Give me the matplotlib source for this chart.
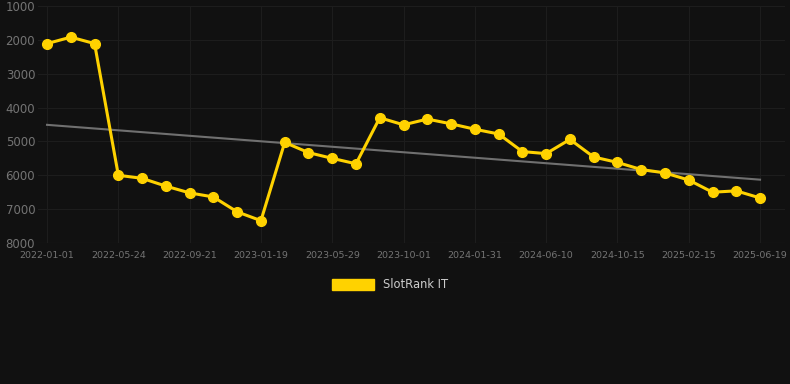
import numpy as np
import matplotlib
matplotlib.use("Agg")
import matplotlib.pyplot as plt

# rank values, one per point (lower rank number = better, axis inverted)
ranks = [2110, 1920, 2110, 6000, 6090, 6320, 6520, 6640, 7080, 7340,
         5030, 5330, 5500, 5660, 4300, 4510, 4340, 4480, 4640, 4780,
         5300, 5360, 4940, 5460, 5620, 5830, 5930, 6140, 6500, 6460, 6670]
tick_labels = ["2022-01-01", "2022-05-24", "2022-09-21", "2023-01-19", "2023-05-29",
               "2023-10-01", "2024-01-31", "2024-06-10", "2024-10-15", "2025-02-15",
               "2025-06-19"]
series_name = "SlotRank IT"

bg = "#111111"
x = np.arange(len(ranks))
fig = plt.figure(figsize=(7.9, 3.84), dpi=100, facecolor=bg)
ax = fig.add_axes([38/790, 1-243/384, 747/790, 237/384], facecolor=bg)

# trend line (least squares fit of the ranks)
k, b = np.polyfit(x, ranks, 1)
ax.plot(x, k*x+b, color="#707070", lw=1.5, zorder=2)
ax.plot(x, ranks, color="#FFD200", lw=2.2, marker="o", markersize=7, zorder=3, label=series_name)

ax.set_ylim(8000, 1000)
ax.set_yticks([1000, 2000, 3000, 4000, 5000, 6000, 7000, 8000])
ax.set_xlim(-0.38, 31.05)
ax.set_xticks(x[::3])
ax.set_xticklabels(tick_labels)
ax.grid(True, color="#1d1d1d", lw=0.8)
for s in ax.spines.values():
    s.set_visible(False)
ax.axhline(8000, color="#262626", lw=0.8, zorder=1)
ax.tick_params(axis="y", colors="#747474", labelsize=8.5, length=0, pad=2)
ax.tick_params(axis="x", colors="#747474", labelsize=6.8, length=0, pad=6)

leg = fig.legend(handles=[plt.Rectangle((0, 0), 1, 1, color="#FFD200")], labels=[series_name],
                 loc="center", bbox_to_anchor=(390/790, 1-285/384), frameon=False,
                 handlelength=3.6, handleheight=1.0, fontsize=8.3, labelcolor="#cccccc")

fig.savefig("out.png", dpi=100, facecolor=bg)
